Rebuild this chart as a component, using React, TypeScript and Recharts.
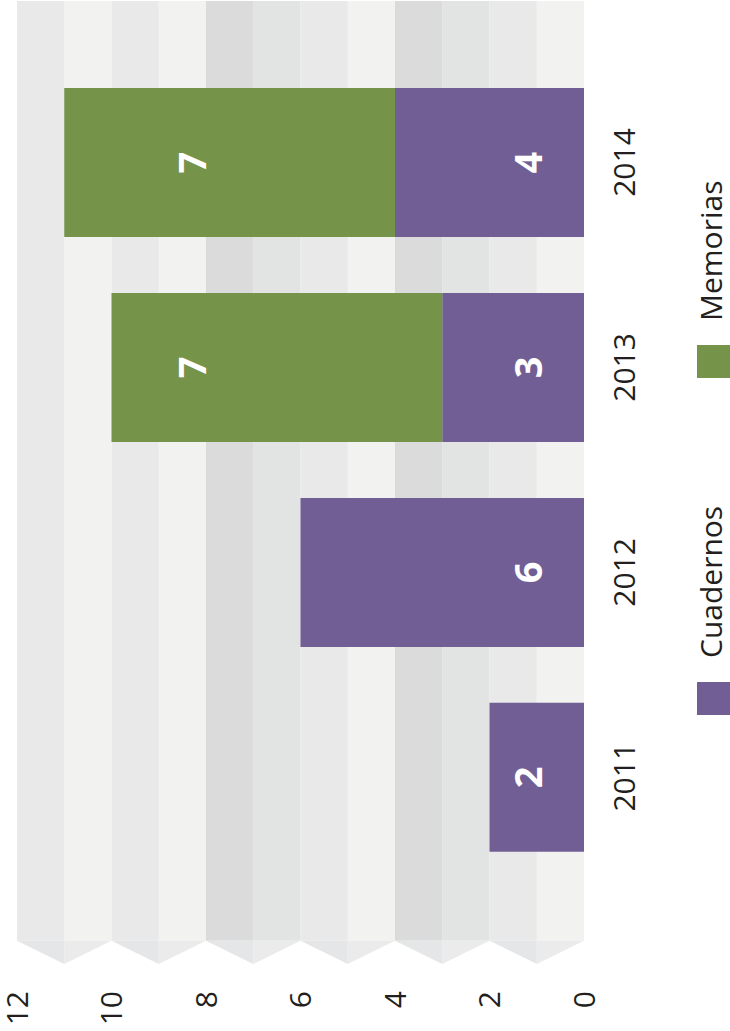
import React from 'react';
import { BarChart, Bar, XAxis, YAxis, ReferenceArea, Legend, LabelList } from 'recharts';

// ---- data ----
const YEARS = [2011, 2012, 2013, 2014];
const CUADERNOS = [2, 6, 3, 4];
const MEMORIAS = [0, 0, 7, 7];
const VALUE_TICKS = [0, 2, 4, 6, 8, 10, 12];
const SERIES_NAMES = ['Cuadernos', 'Memorias'];

const data = YEARS.map((year, i) => ({ year, cuadernos: CUADERNOS[i], memorias: MEMORIAS[i] }));

// ---- style / layout ----
const FONT = "'Open Sans', 'Noto Sans', sans-serif";
const TEXT_COLOR = '#231f20';
const PURPLE = '#705e94';
const GREEN = '#76934a';
const BAND_COLORS = ['#f2f2f1', '#e9e9e9', '#e2e4e3', '#dbdbdb', '#f2f2f1', '#e9e9e9', '#e2e4e3', '#dbdbdb', '#f2f2f1', '#e9e9e9', '#f2f2f1', '#e9e9e9'];
const CHEVRON_ODD = '#e5e6e7';
const CHEVRON_EVEN = '#ebebeb';
const CAT_MIN = 2010.0888;
const CAT_STRIPE = 2010.2024;
const CAT_MAX = 2014.788;
const LABEL_AT: Record<string, number> = { cuadernos: 1.17, memorias: 8.29 };

const chevronShape = (v: number) => (props: any) => {
  const { x, y, width, height } = props;
  const pts = v % 2 === 1
    ? `${x},${y} ${x + width},${y} ${x + width},${y + height}`
    : `${x},${y} ${x + width},${y} ${x},${y + height}`;
  return <polygon points={pts} fill={v % 2 === 1 ? CHEVRON_ODD : CHEVRON_EVEN} stroke="none" />;
};

const ValueTick = (props: any) => {
  const { x, y, payload } = props;
  return (
    <text x={x} y={y} transform={`rotate(-90 ${x} ${y})`} textAnchor="end" dy="0.36em"
      fontSize={30} fontFamily={FONT} fill={TEXT_COLOR}>{payload.value}</text>
  );
};

const YearTick = (props: any) => {
  const { x, y, payload } = props;
  return (
    <text x={x} y={y} transform={`rotate(-90 ${x} ${y})`} textAnchor="middle"
      fontSize={30} fontFamily={FONT} fill={TEXT_COLOR}>{payload.value}</text>
  );
};

// label value is encoded as "value|base" so the label can sit at a fixed value position
const makeLabel = (series: string) => (p: any) => {
  const vb = p.viewBox && p.viewBox.width !== undefined ? p.viewBox : p;
  const { x, y, width, height } = vb;
  const parts = String(p.value).split('|');
  const value = Number(parts[0]);
  const base = Number(parts[1]) || 0;
  if (!value) return null;
  const left = Math.min(x, x + width);
  const right = Math.max(x, x + width);
  const ppu = (right - left) / value;
  const cx = right - (LABEL_AT[series] - base) * ppu;
  const top = Math.min(y, y + height);
  const cy = top + Math.abs(height) / 2;
  return (
    <text x={cx} y={cy} transform={`rotate(-90 ${cx} ${cy})`} textAnchor="middle" dy="0.36em"
      fontSize={38} fontWeight={700} fontFamily={FONT} fill="#ffffff">{value}</text>
  );
};

const renderLegend = (props: any) => {
  const payload = props.payload || [];
  return (
    <svg width={33} height={1030} style={{ display: 'block' }}>
      {payload.map((item: any, i: number) => {
        const sq = 682 - i * 337;
        const ts = sq - 24;
        return (
          <g key={i}>
            <rect x={0} y={sq} width={33} height={33} fill={item.color} />
            <text x={25} y={ts} transform={`rotate(-90 25 ${ts})`} textAnchor="start"
              fontSize={30} fontFamily={FONT} fill={TEXT_COLOR}>{item.value}</text>
          </g>
        );
      })}
    </svg>
  );
};

export default function App() {
  return (
    <div style={{ position: 'absolute', left: 0, top: 0, width: 730, height: 1031, background: '#ffffff' }}>
      <BarChart width={730} height={1031} data={data} layout="vertical"
        margin={{ top: 1, right: 0, bottom: 0, left: 17 }}>
        {BAND_COLORS.map((c, v) => (
          <ReferenceArea key={`b${v}`} x1={v} x2={v + 1} y1={CAT_STRIPE} y2={CAT_MAX}
            fill={c} fillOpacity={1} stroke="none" ifOverflow="visible" />
        ))}
        {BAND_COLORS.map((c, v) => (
          <ReferenceArea key={`c${v}`} x1={v} x2={v + 1} y1={CAT_MIN} y2={CAT_STRIPE}
            fill={c} fillOpacity={1} stroke="none" ifOverflow="visible" shape={chevronShape(v)} />
        ))}
        <XAxis type="number" domain={[0, 12]} reversed ticks={VALUE_TICKS} interval={0}
          allowDataOverflow height={67} axisLine={false} tickLine={false} tickSize={0}
          tickMargin={27} tick={<ValueTick />} />
        <YAxis type="number" dataKey="year" orientation="right" domain={[CAT_MIN, CAT_MAX]}
          reversed allowDataOverflow ticks={YEARS} interval={0} width={113} axisLine={false}
          tickLine={false} tickSize={0} tickMargin={51} tick={<YearTick />} />
        <Legend layout="vertical" align="right" verticalAlign="top" content={renderLegend}
          wrapperStyle={{ top: 0, right: 0 }} />
        <Bar dataKey="cuadernos" name={SERIES_NAMES[0]} stackId="s" fill={PURPLE} barSize={149}
          isAnimationActive={false}>
          <LabelList dataKey={(d: any) => `${d.cuadernos}|0`} content={makeLabel('cuadernos')} />
        </Bar>
        <Bar dataKey="memorias" name={SERIES_NAMES[1]} stackId="s" fill={GREEN} barSize={149}
          isAnimationActive={false}>
          <LabelList dataKey={(d: any) => `${d.memorias}|${d.cuadernos}`} content={makeLabel('memorias')} />
        </Bar>
      </BarChart>
    </div>
  );
}
